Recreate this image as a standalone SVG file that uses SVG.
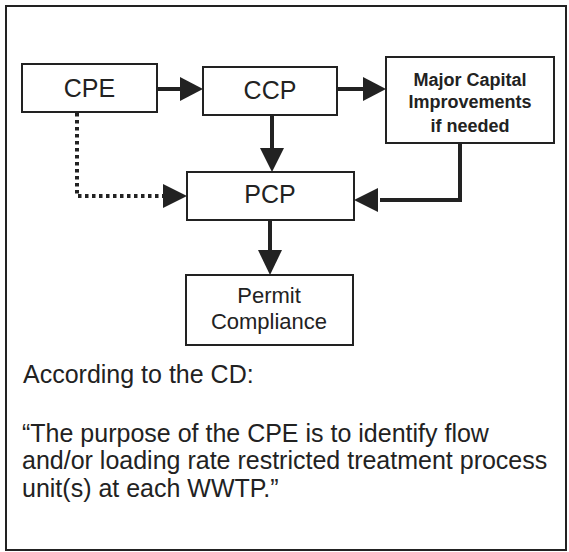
<svg xmlns="http://www.w3.org/2000/svg" width="569" height="552" viewBox="0 0 569 552">
<style>
.box{fill:#fff;stroke:#222;stroke-width:2}
.t{font-family:"Liberation Sans",Arial,sans-serif;fill:#222;text-anchor:middle}
.big{font-size:25px}
.mid{font-size:22px}
.bold{font-size:18px;font-weight:bold}
.para{font-family:"Liberation Sans",Arial,sans-serif;fill:#222;font-size:25px}
.conn{fill:none;stroke:#222;stroke-width:4}
.dot{fill:none;stroke:#222;stroke-width:4;stroke-dasharray:3.5 3.5}
.head{fill:#222}
</style>
<rect x="0" y="0" width="569" height="552" fill="#fff"/>
<rect x="6" y="6" width="560" height="544" fill="none" stroke="#222" stroke-width="2"/>
<g id="connectors">
<line class="conn" x1="157" y1="89" x2="182" y2="89"/>
<polygon class="head" points="180,77 203,89 180,101"/>
<line class="conn" x1="337" y1="89" x2="365" y2="89"/>
<polygon class="head" points="363,77 386,89 363,101"/>
<line class="conn" x1="272" y1="115" x2="272" y2="150"/>
<polygon class="head" points="260,148 272,172 284,148"/>
<polyline class="conn" points="460,143 460,200 380,200"/>
<polygon class="head" points="378,188 354,200 378,212"/>
<polyline class="dot" points="77,113 77,196 165,196"/>
<polygon class="head" points="163,184 187,196 163,208"/>
<line class="conn" x1="270" y1="220" x2="270" y2="252"/>
<polygon class="head" points="258,250 270,275 282,250"/>
</g>
<g id="cpe">
<rect class="box" x="22" y="64" width="135" height="48"/>
<text class="t big" x="89.5" y="97">CPE</text>
</g>
<g id="ccp">
<rect class="box" x="203" y="67" width="134" height="48"/>
<text class="t big" x="270" y="99">CCP</text>
</g>
<g id="major">
<rect class="box" x="386" y="57" width="168" height="86"/>
<text class="t bold" x="470" y="86">Major Capital</text>
<text class="t bold" x="470" y="108">Improvements</text>
<text class="t bold" x="470" y="132">if needed</text>
</g>
<g id="pcp">
<rect class="box" x="187" y="172" width="167" height="48"/>
<text class="t big" x="270" y="203">PCP</text>
</g>
<g id="permit">
<rect class="box" x="186" y="275" width="167" height="70"/>
<text class="t mid" x="269" y="303">Permit</text>
<text class="t mid" x="269" y="329">Compliance</text>
</g>
<g id="note">
<text class="para" x="23" y="383">According to the CD:</text>
<text class="para" x="22" y="442">“The purpose of the CPE is to identify flow</text>
<text class="para" x="22" y="469">and/or loading rate restricted treatment process</text>
<text class="para" x="22" y="497">unit(s) at each WWTP.”</text>
</g>
</svg>
